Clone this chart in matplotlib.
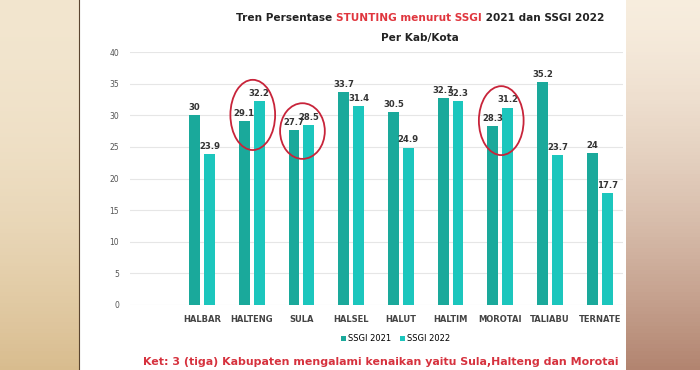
import numpy as np
import matplotlib.pyplot as plt
from matplotlib.patches import Ellipse

# data
kabkota = ["HALBAR", "HALTENG", "SULA", "HALSEL", "HALUT", "HALTIM", "MOROTAI", "TALIABU", "TERNATE"]
ssgi_2021 = [30, 29.1, 27.7, 33.7, 30.5, 32.7, 28.3, 35.2, 24]
ssgi_2022 = [23.9, 32.2, 28.5, 31.4, 24.9, 32.3, 31.2, 23.7, 17.7]
naik = ["HALTENG", "SULA", "MOROTAI"]
y_ticks = list(range(0, 45, 5))

c21 = "#1AA99B"
c22 = "#1CC6BD"
red = "#E0363E"

fig = plt.figure(figsize=(7, 3.7), dpi=100)
fig.patch.set_facecolor("white")

# photo borders on both sides of the slide
bg = fig.add_axes([0, 0, 1, 1], zorder=-5)
bg.set_xlim(0, 700)
bg.set_ylim(370, 0)
bg.axis("off")
grad = np.linspace(0, 1, 100)[:, None]
left_cols = np.array([[0.95, 0.90, 0.81], [0.85, 0.74, 0.56]])
right_cols = np.array([[0.97, 0.93, 0.87], [0.70, 0.52, 0.44]])
left_img = left_cols[0] + (left_cols[1] - left_cols[0]) * grad[..., None] ** 2
right_img = right_cols[0] + (right_cols[1] - right_cols[0]) * grad[..., None] ** 1.5
bg.imshow(np.repeat(left_img, 2, axis=1), extent=[0, 79, 370, 0], aspect="auto")
bg.imshow(np.repeat(right_img, 2, axis=1), extent=[626, 700, 370, 0], aspect="auto")
bg.plot([79, 79], [0, 370], color="#5A4530", lw=0.8)

ax = fig.add_axes([130 / 700, 1 - 305 / 370, 493 / 700, 253 / 370])
x = np.arange(len(kabkota))
w = 0.22
off = 0.15
b1 = ax.bar(x - off, ssgi_2021, w, color=c21, label="SSGI 2021", zorder=3)
b2 = ax.bar(x + off, ssgi_2022, w, color=c22, label="SSGI 2022", zorder=3)

for bars, vals in ((b1, ssgi_2021), (b2, ssgi_2022)):
    for rect, v in zip(bars, vals):
        ax.text(rect.get_x() + rect.get_width() / 2, v + 0.5, f"{v:g}",
                ha="center", va="bottom", fontsize=6.1, fontweight="bold", color="#333333", zorder=4)

# red circles around the regions that went up
for name in naik:
    i = kabkota.index(name)
    mid = (ssgi_2021[i] + ssgi_2022[i]) / 2
    tall = abs(ssgi_2022[i] - ssgi_2021[i]) + 8
    ax.add_patch(Ellipse((i + 0.02, mid - 0.6), 0.9, tall, fill=False,
                         edgecolor="#C8243A", lw=1.3, zorder=5))

ax.set_xlim(-1.45, 8.47)
ax.set_ylim(0, 40)
ax.set_yticks(y_ticks)
ax.set_xticks(x)
ax.set_xticklabels(kabkota, fontsize=6, fontweight="bold", color="#444444")
ax.tick_params(axis="y", labelsize=5.5, labelcolor="#555555", length=0, pad=8)
ax.tick_params(axis="x", length=0, pad=7)
ax.grid(axis="y", color="#E6E6E6", lw=0.8, zorder=0)
for s in ax.spines.values():
    s.set_visible(False)

fig.legend(handles=[b1, b2], loc="center", bbox_to_anchor=(0.565, 0.084), ncol=2,
           frameon=False, fontsize=6, handlelength=0.6, handleheight=0.6,
           handletextpad=0.3, columnspacing=1.0)

# multi-coloured title
renderer = fig.canvas.get_renderer()
parts = [("Tren Persentase ", "#222222"), ("STUNTING menurut SSGI", red), (" 2021 dan SSGI 2022", "#222222")]
texts = [fig.text(0, 0.951, p, fontsize=7.6, fontweight="bold", color=c, va="center") for p, c in parts]
widths = [t.get_window_extent(renderer).width for t in texts]
xpos = 420 - sum(widths) / 2
for t, wd in zip(texts, widths):
    t.set_x(xpos / 700)
    xpos += wd
fig.text(420 / 700, 0.897, "Per Kab/Kota", fontsize=7.6, fontweight="bold", color="#222222",
         ha="center", va="center")

fig.text(381 / 700, 0.022, "Ket: 3 (tiga) Kabupaten mengalami kenaikan yaitu Sula,Halteng dan Morotai",
         fontsize=7.9, fontweight="bold", color="#D6323E", ha="center", va="center")

fig.savefig("out.png", dpi=100)
